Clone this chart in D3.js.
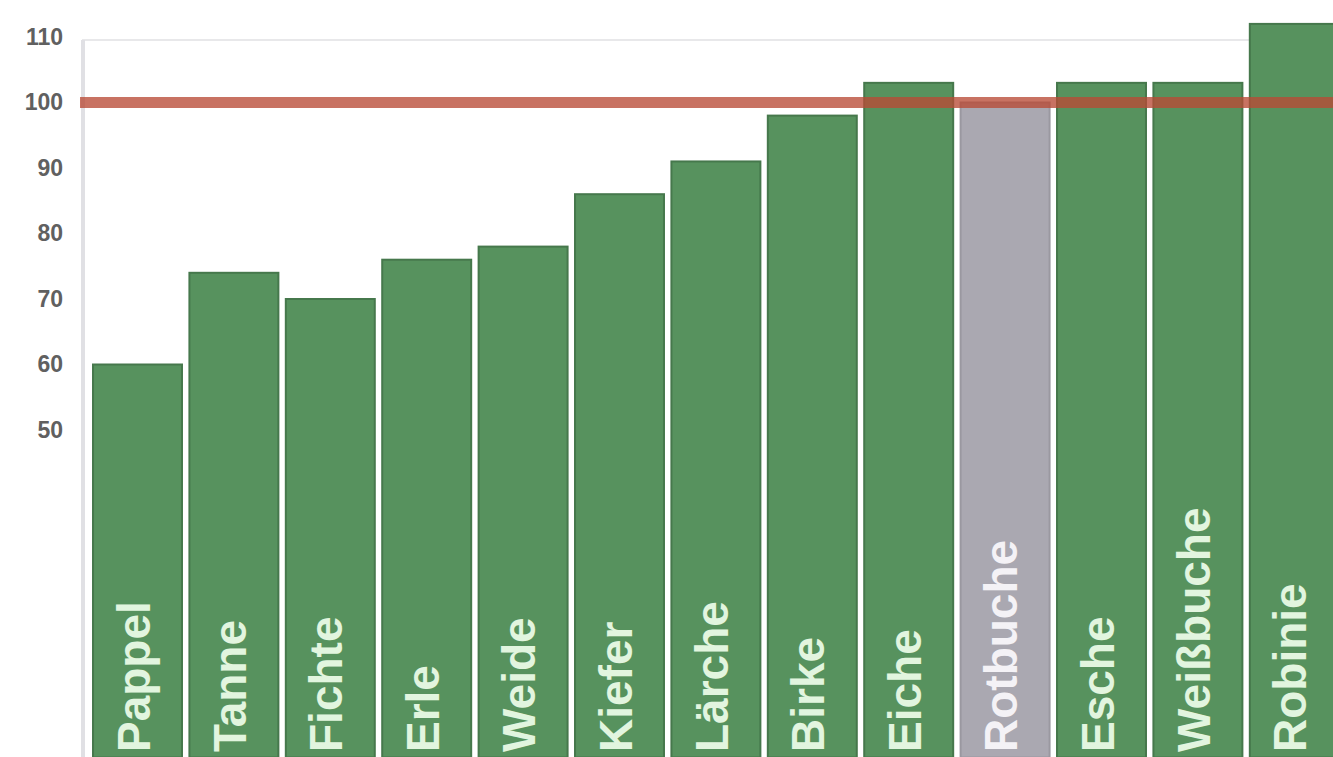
<!DOCTYPE html>
<html>
<head>
<meta charset="utf-8">
<script src="https://cdn.jsdelivr.net/npm/d3@7"></script>
<style>
  html, body { margin: 0; padding: 0; background: #fff; }
  svg { display: block; }
</style>
</head>
<body>
<svg id="chart" width="1333" height="757"></svg>
<script>
const categories = ["Pappel", "Tanne", "Fichte", "Erle", "Weide", "Kiefer", "Lärche", "Birke", "Eiche", "Rotbuche", "Esche", "Weißbuche", "Robinie"];
const values = [60, 74, 70, 76, 78, 86, 91, 98, 103, 100, 103, 103, 112];
const referenceCategory = "Rotbuche";
const referenceValue = 100;
const tickValues = [50, 60, 70, 80, 90, 100, 110];

const W = 1333, H = 757;
const svg = d3.select("#chart");

const x = d3.scaleBand()
  .domain(categories)
  .range([89.3, 1342.5])
  .paddingInner(0.077)
  .paddingOuter(0.0385);

const y = d3.scaleLinear()
  .domain([0, 110])
  .range([757.5, 37]);

// faint top gridline
svg.append("line")
  .attr("x1", 82).attr("x2", W)
  .attr("y1", y(110) + 3).attr("y2", y(110) + 3)
  .attr("stroke", "#e8e8ea").attr("stroke-width", 2);

// axis line
svg.append("line")
  .attr("x1", 83).attr("x2", 83)
  .attr("y1", y(110) + 3).attr("y2", H)
  .attr("stroke", "#e0e0e4").attr("stroke-width", 4);

// y axis ticks
const yAxis = d3.axisLeft(y).tickValues(tickValues).tickSize(0).tickPadding(0);
const gAxis = svg.append("g").attr("transform", "translate(63,0)").call(yAxis);
gAxis.select(".domain").remove();
gAxis.selectAll("text")
  .attr("font-family", "Liberation Sans, Arial, sans-serif")
  .attr("font-size", 23)
  .attr("font-weight", "bold")
  .attr("fill", "#606060");

// bars
const data = categories.map((c, i) => ({ c, v: values[i] }));
svg.append("g").selectAll("rect")
  .data(data)
  .join("rect")
  .attr("x", d => x(d.c))
  .attr("y", d => y(d.v))
  .attr("width", x.bandwidth())
  .attr("height", d => y(0) - y(d.v))
  .attr("fill", d => d.c === referenceCategory ? "#aaa8b1" : "#57925e")
  .attr("stroke", d => d.c === referenceCategory ? "#9a98a0" : "#46784c")
  .attr("stroke-width", 2);

// reference line at 100
svg.append("line")
  .attr("x1", 80).attr("x2", W)
  .attr("y1", y(referenceValue)).attr("y2", y(referenceValue))
  .attr("stroke", "#b84a36")
  .attr("stroke-opacity", 0.78)
  .attr("stroke-width", 11);

// labels
svg.append("g").selectAll("text")
  .data(data)
  .join("text")
  .attr("transform", d => `translate(${x(d.c) + x.bandwidth() / 2 + 12},752) rotate(-90)`)
  .attr("text-anchor", "start")
  .attr("font-family", "Liberation Sans, Arial, sans-serif")
  .attr("font-size", 46)
  .attr("font-weight", "bold")
  .attr("fill", d => d.c === referenceCategory ? "#f4f2f6" : "#e2f5df")
  .text(d => d.c);
</script>
</body>
</html>
